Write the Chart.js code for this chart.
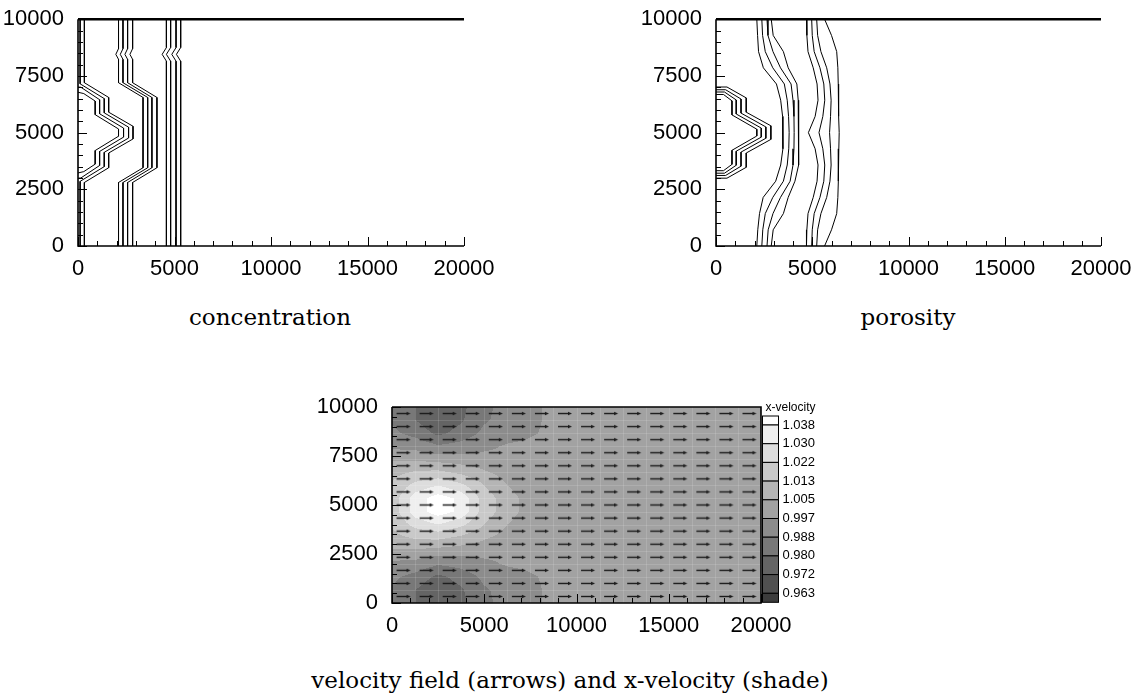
<!DOCTYPE html>
<html>
<head>
<meta charset="utf-8">
<script src="https://cdn.jsdelivr.net/npm/chart.js@4.4.0/dist/chart.umd.min.js"></script>
<style>
  html, body { margin: 0; padding: 0; background: #fff; }
  body { width: 1140px; height: 696px; position: relative; overflow: hidden; }
  canvas { position: absolute; }
  .cap { position: absolute; font-family: "DejaVu Serif", serif; font-size: 23px; line-height: 28px;
         color: #000; text-align: center; white-space: nowrap; }
</style>
</head>
<body>
<canvas id="conc" width="560" height="300" style="left:0;top:0"></canvas>
<canvas id="poro" width="502" height="300" style="left:638px;top:0"></canvas>
<canvas id="vel" width="560" height="260" style="left:300px;top:380px"></canvas>
<div class="cap" style="left:70px;width:400px;top:303px">concentration</div>
<div class="cap" style="left:708px;width:400px;top:303px">porosity</div>
<div class="cap" style="left:270px;width:600px;top:666px">velocity field (arrows) and x-velocity (shade)</div>

<script>
// ---- concentration contours (x, y pairs) ----
const concLeft0X = [330, 330, 1590, 1590, 2850, 2850, 1590, 1590, 330, 330];
const concLeft0Y = [10000, 7200, 6550, 5900, 5280, 4720, 4100, 3450, 2800, 0];
const concLeft1X = [110, 110, 1360, 1360, 2620, 2620, 1360, 1360, 110, 110];
const concLeft1Y = [10000, 7150, 6500, 5870, 5240, 4760, 4130, 3500, 2850, 0];
const concLeft2X = [0, 150, 1120, 1120, 2360, 2360, 1120, 1120, 150, 0];
const concLeft2Y = [7010, 7000, 6450, 5830, 5200, 4800, 4170, 3550, 3000, 2990];
const concLeft3X = [0, 300, 890, 890, 2100, 2100, 890, 890, 300, 0];
const concLeft3Y = [6780, 6720, 6390, 5790, 5160, 4840, 4210, 3610, 3280, 3220];

const concMidY = [10000, 8700, 8450, 8230, 7200, 6550, 3450, 2800, 0];
const concMidX = [
  [2100, 2100, 1960, 2100, 2100, 3370, 3370, 2100, 2100],
  [2330, 2330, 2190, 2330, 2330, 3610, 3610, 2330, 2330],
  [2570, 2570, 2430, 2570, 2570, 3830, 3830, 2570, 2570],
  [2830, 2830, 2690, 2830, 2830, 4090, 4090, 2830, 2830]
];
const concRightY = [10000, 8750, 8450, 8150, 0];
const concRightX = [
  [4580, 4580, 4360, 4580, 4580],
  [4800, 4800, 4580, 4800, 4800],
  [5080, 5080, 4860, 5080, 5080],
  [5320, 5320, 5100, 5320, 5320]
];

// ---- porosity contours ----
const poroLeftX = [
  [0, 570, 1570, 1570, 2850, 2850, 1570, 1570, 570, 0],
  [0, 500, 1300, 1300, 2590, 2590, 1300, 1300, 500, 0],
  [0, 440, 1050, 1050, 2350, 2350, 1050, 1050, 440, 0],
  [0, 390, 830, 830, 2120, 2120, 830, 830, 390, 0]
];
const poroLeftY = [
  [7010, 7010, 6530, 5900, 5300, 4700, 4100, 3470, 2990, 2990],
  [6890, 6890, 6480, 5860, 5250, 4750, 4140, 3520, 3110, 3110],
  [6790, 6790, 6440, 5820, 5200, 4800, 4180, 3560, 3210, 3210],
  [6680, 6680, 6400, 5780, 5150, 4850, 4220, 3600, 3320, 3320]
];
const poroLevelsY = [10000, 9286, 8571, 7857, 7143, 6429, 5714, 5000, 4286, 3571, 2857, 2143, 1429, 714, 0];
const poroBandX = [
  [2120, 2160, 2210, 2460, 3140, 3360, 3460, 3480, 3470, 3360, 3100, 2450, 2260, 2170, 2120],
  [2380, 2420, 2560, 2950, 3550, 3700, 3770, 3800, 3780, 3700, 3500, 2950, 2560, 2430, 2380],
  [2650, 2700, 2960, 3350, 3900, 4000, 4050, 4060, 4050, 4000, 3850, 3350, 2960, 2710, 2650],
  [2870, 2970, 3500, 3750, 4200, 4270, 4300, 4300, 4300, 4270, 4100, 3750, 3500, 2970, 2870],
  [4700, 4720, 4780, 5050, 5250, 5300, 5150, 4800, 5150, 5300, 5250, 5050, 4780, 4720, 4700],
  [4970, 5000, 5100, 5400, 5600, 5650, 5550, 5350, 5550, 5650, 5600, 5400, 5100, 5000, 4970],
  [5230, 5280, 5450, 5750, 5920, 5980, 5950, 5900, 5950, 5980, 5920, 5750, 5450, 5280, 5230],
  [5640, 6000, 6270, 6330, 6350, 6360, 6380, 6400, 6380, 6360, 6350, 6330, 6270, 6000, 5640]
];

// ---- velocity field: x-velocity on grid nodes (rows from y=0 up) ----
const gridX = [0, 1250, 2500, 3750, 5000, 6250, 7500, 8750, 10000, 11250, 12500, 13750, 15000, 16250, 17500, 18750, 20000];
const gridY = [0, 667, 1333, 2000, 2667, 3333, 4000, 4667, 5333, 6000, 6667, 7333, 8000, 8667, 9333, 10000];
const xVelocity = [
  [0.987, 0.980, 0.973, 0.978, 0.986, 0.991, 0.995, 0.999, 1, 1, 1, 1, 1, 1, 1, 1, 1],
  [0.987, 0.980, 0.974, 0.979, 0.987, 0.991, 0.995, 0.999, 1, 1, 1, 1, 1, 1, 1, 1, 1],
  [0.990, 0.985, 0.978, 0.983, 0.990, 0.993, 0.996, 0.999, 1, 1, 1, 1, 1, 1, 1, 1, 1],
  [0.995, 0.994, 0.989, 0.991, 0.995, 0.998, 0.999, 1.000, 1, 1, 1, 1, 1, 1, 1, 1, 1],
  [1.004, 1.004, 1.002, 1.001, 1.000, 0.999, 1.000, 1.000, 1, 1, 1, 1, 1, 1, 1, 1, 1],
  [1.010, 1.014, 1.015, 1.011, 1.006, 1.002, 1.000, 1.000, 1, 1, 1, 1, 1, 1, 1, 1, 1],
  [1.014, 1.025, 1.030, 1.024, 1.013, 1.005, 1.001, 1.000, 1, 1, 1, 1, 1, 1, 1, 1, 1],
  [1.017, 1.034, 1.042, 1.036, 1.018, 1.008, 1.002, 1.000, 1, 1, 1, 1, 1, 1, 1, 1, 1],
  [1.017, 1.034, 1.042, 1.036, 1.018, 1.008, 1.002, 1.000, 1, 1, 1, 1, 1, 1, 1, 1, 1],
  [1.014, 1.025, 1.030, 1.024, 1.013, 1.005, 1.001, 1.000, 1, 1, 1, 1, 1, 1, 1, 1, 1],
  [1.010, 1.014, 1.015, 1.011, 1.006, 1.002, 1.000, 1.000, 1, 1, 1, 1, 1, 1, 1, 1, 1],
  [1.004, 1.004, 1.002, 1.001, 1.000, 0.999, 1.000, 1.000, 1, 1, 1, 1, 1, 1, 1, 1, 1],
  [0.995, 0.994, 0.989, 0.991, 0.995, 0.998, 0.999, 1.000, 1, 1, 1, 1, 1, 1, 1, 1, 1],
  [0.990, 0.985, 0.978, 0.983, 0.990, 0.993, 0.996, 0.999, 1, 1, 1, 1, 1, 1, 1, 1, 1],
  [0.987, 0.980, 0.974, 0.979, 0.987, 0.991, 0.995, 0.999, 1, 1, 1, 1, 1, 1, 1, 1, 1],
  [0.987, 0.980, 0.973, 0.978, 0.986, 0.991, 0.995, 0.999, 1, 1, 1, 1, 1, 1, 1, 1, 1]
];
const levels = [0.963, 0.972, 0.980, 0.988, 0.997, 1.005, 1.013, 1.022, 1.030, 1.038];
const levelLabels = ['0.963', '0.972', '0.980', '0.988', '0.997', '1.005', '1.013', '1.022', '1.030', '1.038'];
const shades = ['#3c3c3c', '#505050', '#646464', '#787878', '#8c8c8c', '#a2a2a2',
                '#b5b5b5', '#c9c9c9', '#dddddd', '#efefef', '#ffffff'];

const tickFont = { family: '"Liberation Sans", Arial, sans-serif', size: 22 };

function pts(xs, ys) {
  return xs.map((v, i) => ({ x: v, y: ys[i] }));
}
function lineSet(data) {
  return { data: data, showLine: true, borderColor: '#000', borderWidth: 1, pointRadius: 0, fill: false };
}

function axes(yWidth, xHeight) {
  return {
    x: {
      type: 'linear', min: 0, max: 20000,
      grid: { display: false }, border: { display: false },
      ticks: { stepSize: 5000, autoSkip: false, maxRotation: 0, padding: 2, color: '#000', font: tickFont,
               callback: v => String(v) },
      afterFit: s => { s.height = xHeight; }
    },
    y: {
      type: 'linear', min: 0, max: 10000,
      grid: { display: false }, border: { display: false },
      ticks: { stepSize: 2500, autoSkip: false, padding: 6, color: '#000', font: tickFont,
               callback: v => String(v) },
      afterFit: s => { s.width = yWidth; }
    }
  };
}

// inward ticks, axis lines, thick top line
const frame = {
  id: 'frame',
  afterDatasetsDraw(chart, args, opts) {
    const { ctx, chartArea: a, scales: { x, y } } = chart;
    ctx.save();
    ctx.strokeStyle = '#000';
    ctx.lineWidth = 1;
    ctx.beginPath();
    for (let v = 0; v <= 10000; v += 500) {
      const py = Math.round(y.getPixelForValue(v)) + 0.5;
      const len = v % 2500 === 0 ? 9 : 5;
      ctx.moveTo(a.left, py); ctx.lineTo(a.left + len, py);
    }
    for (let v = 0; v <= 20000; v += 1000) {
      const px = Math.round(x.getPixelForValue(v)) + 0.5;
      const len = v % 5000 === 0 ? 9 : 5;
      ctx.moveTo(px, a.bottom); ctx.lineTo(px, a.bottom - len);
    }
    ctx.stroke();
    ctx.lineWidth = 1.6;
    ctx.beginPath();
    ctx.moveTo(a.left, a.top); ctx.lineTo(a.left, a.bottom); ctx.lineTo(a.right, a.bottom);
    if (opts.box) { ctx.lineTo(a.right, a.top); ctx.lineTo(a.left, a.top); }
    ctx.stroke();
    if (!opts.box) {
      ctx.lineWidth = 2.5;
      ctx.beginPath(); ctx.moveTo(a.left, a.top); ctx.lineTo(a.right, a.top); ctx.stroke();
    }
    ctx.restore();
  }
};

function sample(vx, vy) {
  let i = 0, j = 0;
  while (i < gridX.length - 2 && vx > gridX[i + 1]) i++;
  while (j < gridY.length - 2 && vy > gridY[j + 1]) j++;
  const tx = Math.min(1, Math.max(0, (vx - gridX[i]) / (gridX[i + 1] - gridX[i])));
  const ty = Math.min(1, Math.max(0, (vy - gridY[j]) / (gridY[j + 1] - gridY[j])));
  const a = xVelocity[j][i], b = xVelocity[j][i + 1], c = xVelocity[j + 1][i], d = xVelocity[j + 1][i + 1];
  return (a * (1 - tx) + b * tx) * (1 - ty) + (c * (1 - tx) + d * tx) * ty;
}

// flood shading of x-velocity
const shade = {
  id: 'shade',
  beforeDatasetsDraw(chart) {
    const { ctx, chartArea: a, scales: { x, y } } = chart;
    const left = Math.round(a.left), top = Math.round(a.top);
    const w = Math.round(a.right) - left, h = Math.round(a.bottom) - top;
    const rgb = shades.map(s => [1, 3, 5].map(k => parseInt(s.slice(k, k + 2), 16)));
    const img = ctx.createImageData(w, h);
    for (let py = 0; py < h; py++) {
      const vy = y.getValueForPixel(top + py + 0.5);
      for (let px = 0; px < w; px++) {
        const v = sample(x.getValueForPixel(left + px + 0.5), vy);
        let k = 0;
        while (k < levels.length && v >= levels[k]) k++;
        const o = (py * w + px) * 4, c = rgb[k];
        img.data[o] = c[0]; img.data[o + 1] = c[1]; img.data[o + 2] = c[2]; img.data[o + 3] = 255;
      }
    }
    ctx.putImageData(img, left, top);
    // faint cell edges
    ctx.save();
    ctx.strokeStyle = 'rgba(255,255,255,0.13)';
    ctx.lineWidth = 1;
    ctx.beginPath();
    gridX.forEach(v => { const p = Math.round(x.getPixelForValue(v)) + 0.5; ctx.moveTo(p, a.top); ctx.lineTo(p, a.bottom); });
    gridY.forEach(v => { const p = Math.round(y.getPixelForValue(v)) + 0.5; ctx.moveTo(a.left, p); ctx.lineTo(a.right, p); });
    ctx.stroke();
    ctx.restore();
  }
};

// colour legend to the right of the velocity plot
const shadeLegend = {
  id: 'shadeLegend',
  afterDraw(chart) {
    const { ctx, chartArea: a } = chart;
    const bx = Math.round(a.right) + 1.5, bw = 16, step = 18.7;
    const y0 = a.top + 18;
    ctx.save();
    ctx.fillStyle = '#000';
    ctx.font = '12px "Liberation Sans", Arial, sans-serif';
    ctx.textBaseline = 'middle';
    ctx.fillText('x-velocity', bx + 3, a.top + 1);
    const edges = [a.top + 9];
    for (let k = 0; k < levels.length; k++) edges.push(y0 + step * k);
    edges.push(y0 + step * (levels.length - 1) + 9);
    ctx.strokeStyle = '#000';
    ctx.lineWidth = 1;
    for (let b = 0; b < edges.length - 1; b++) {
      ctx.fillStyle = shades[shades.length - 1 - b];
      ctx.fillRect(bx, edges[b], bw, edges[b + 1] - edges[b]);
      ctx.strokeRect(bx, edges[b], bw, edges[b + 1] - edges[b]);
    }
    ctx.fillStyle = '#000';
    ctx.font = '13px "Liberation Sans", Arial, sans-serif';
    for (let k = 0; k < levels.length; k++) {
      ctx.fillText(levelLabels[levels.length - 1 - k], bx + bw + 4, y0 + step * k);
    }
    ctx.restore();
  }
};

function arrowImage() {
  const c = document.createElement('canvas');
  c.width = 16; c.height = 5;
  const g = c.getContext('2d');
  g.strokeStyle = '#1a1a1a'; g.fillStyle = '#1a1a1a';
  g.lineWidth = 1.4;
  g.beginPath(); g.moveTo(1, 2.5); g.lineTo(12, 2.5); g.stroke();
  g.beginPath(); g.moveTo(11, 0.8); g.lineTo(15, 2.5); g.lineTo(11, 4.2); g.closePath(); g.fill();
  return c;
}

const common = {
  responsive: false, devicePixelRatio: 1, animation: false,
  plugins: { legend: { display: false }, tooltip: { enabled: false } }
};

// concentration
const concData = [
  lineSet(pts(concLeft0X, concLeft0Y)),
  lineSet(pts(concLeft1X, concLeft1Y)),
  lineSet(pts(concLeft2X, concLeft2Y)),
  lineSet(pts(concLeft3X, concLeft3Y))
];
concMidX.forEach(xs => concData.push(lineSet(pts(xs, concMidY))));
concRightX.forEach(xs => concData.push(lineSet(pts(xs, concRightY))));

new Chart(document.getElementById('conc'), {
  type: 'scatter',
  data: { datasets: concData },
  options: Object.assign({}, common, {
    layout: { padding: { left: 0, top: 16, right: 96, bottom: 13 } },
    scales: axes(78, 41),
    plugins: Object.assign({}, common.plugins, { frame: { box: false } })
  }),
  plugins: [frame]
});

// porosity
const poroData = [];
poroLeftX.forEach((xs, k) => poroData.push(lineSet(pts(xs, poroLeftY[k]))));
poroBandX.forEach(xs => poroData.push(lineSet(pts(xs, poroLevelsY))));

new Chart(document.getElementById('poro'), {
  type: 'scatter',
  data: { datasets: poroData },
  options: Object.assign({}, common, {
    layout: { padding: { left: 0, top: 16, right: 39, bottom: 13 } },
    scales: axes(78, 41),
    plugins: Object.assign({}, common.plugins, { frame: { box: false } })
  }),
  plugins: [frame]
});

// velocity: arrows at cell centres
const arrowPts = [];
for (let j = 0; j < gridY.length - 1; j++) {
  for (let i = 0; i < gridX.length - 1; i++) {
    arrowPts.push({ x: (gridX[i] + gridX[i + 1]) / 2, y: (gridY[j] + gridY[j + 1]) / 2 });
  }
}
const arrow = arrowImage();

new Chart(document.getElementById('vel'), {
  type: 'scatter',
  data: { datasets: [{ data: arrowPts, pointStyle: arrow, pointRadius: 8, borderWidth: 0 }] },
  options: Object.assign({}, common, {
    layout: { padding: { left: 0, top: 27, right: 99, bottom: 4 } },
    scales: axes(92, 33),
    plugins: Object.assign({}, common.plugins, { frame: { box: true } })
  }),
  plugins: [shade, frame, shadeLegend]
});
</script>
</body>
</html>
